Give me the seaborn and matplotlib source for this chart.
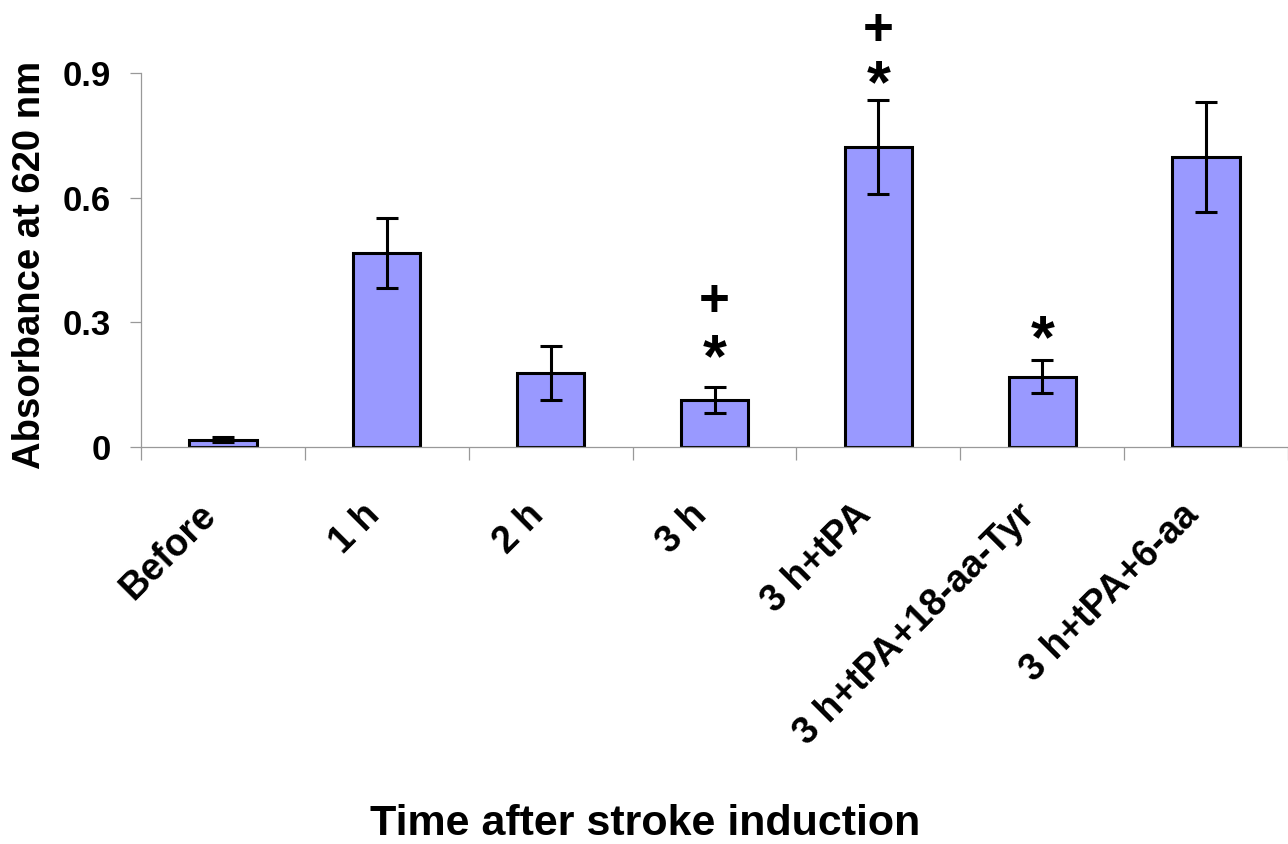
import matplotlib
matplotlib.use("Agg")
import matplotlib.pyplot as plt
import seaborn as sns
import numpy as np
import pandas as pd

categories = ["Before", "1 h", "2 h", "3 h", "3 h+tPA", "3 h+tPA+18-aa-Tyr", "3 h+tPA+6-aa"]
absorbance = [0.018, 0.466, 0.177, 0.113, 0.722, 0.169, 0.698]
sem = [0.007, 0.084, 0.065, 0.032, 0.112, 0.040, 0.133]

# significance marks: (category, symbol, y-position in data units)
mark_cats = ["3 h", "3 h", "3 h+tPA", "3 h+tPA", "3 h+tPA+18-aa-Tyr"]
mark_syms = ["*", "+", "*", "+", "*"]
mark_y = [0.208, 0.350, 0.868, 1.000, 0.254]

yticks = [0, 0.3, 0.6, 0.9]
yticklabels = ["0", "0.3", "0.6", "0.9"]

sns.set_theme(style="white")
plt.rcParams["font.family"] = ["Liberation Sans", "DejaVu Sans"]
plt.rcParams["font.weight"] = "bold"
for k in ["text.color", "axes.labelcolor", "xtick.labelcolor", "ytick.labelcolor"]:
    plt.rcParams[k] = "black"

fig = plt.figure(figsize=(12.88, 8.44), dpi=100)
ax = fig.add_axes([141 / 1288, 1 - 447 / 844, 1 - 141 / 1288, (447 - 73) / 844])

df = pd.DataFrame({"cat": categories, "val": absorbance})
sns.barplot(data=df, x="cat", y="val", order=categories, color="#9999FF",
            saturation=1, width=0.41, edgecolor="black", linewidth=2.2,
            errorbar=None, ax=ax, zorder=2)

pos = np.arange(len(categories))
ax.errorbar(pos, absorbance, yerr=sem, fmt="none", ecolor="black",
            elinewidth=2.2, capsize=8, capthick=2.2, zorder=3)

for c, s, y in zip(mark_cats, mark_syms, mark_y):
    x = categories.index(c)
    ax.text(x, y, s, ha="center", va="center",
            fontsize=44 if s == "*" else 38, fontweight="bold",
            color="black", clip_on=False)

ax.set_xlim(-0.5, 6.47)
ax.set_ylim(0, 0.9)

ax.set_yticks(yticks)
ax.set_yticklabels(yticklabels, fontsize=25, fontweight="bold")
ax.tick_params(axis="y", which="major", direction="out", length=8, width=0.9,
               color="#999999", pad=14, left=True)

ax.set_xticks(pos)
ax.set_xticklabels(categories, fontsize=27, fontweight="bold",
                   rotation=45, ha="right", va="top")
ax.tick_params(axis="x", which="major", length=0, pad=36)
ax.set_xticks(np.arange(-0.5, 7, 1.0), minor=True)
ax.tick_params(axis="x", which="minor", direction="out", length=9, width=0.9,
               color="#999999", bottom=True)

for side in ["top", "right"]:
    ax.spines[side].set_visible(False)
for side in ["left", "bottom"]:
    ax.spines[side].set_color("#999999")
    ax.spines[side].set_linewidth(0.9)

ax.set_ylabel("Absorbance at 620 nm", fontsize=27.5, fontweight="bold", va="center")
ax.yaxis.set_label_coords(-0.097, 0.487)
ax.set_xlabel("Time after stroke induction", fontsize=31, fontweight="bold", va="baseline")
ax.xaxis.set_label_coords(0.4394, -1.0374)

fig.savefig("out.png", dpi=100)
